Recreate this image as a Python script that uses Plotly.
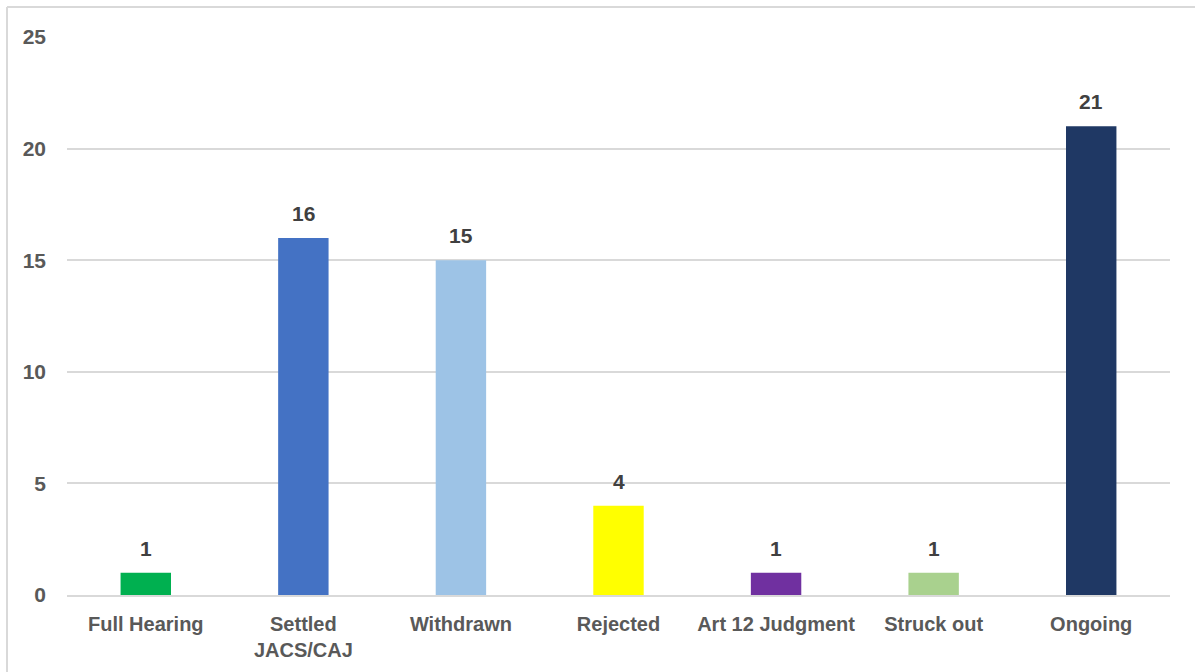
import plotly.graph_objects as go

categories = ["Full Hearing", "Settled<br>JACS/CAJ", "Withdrawn", "Rejected",
              "Art 12 Judgment", "Struck out", "Ongoing"]
counts = [1, 16, 15, 4, 1, 1, 21]
bar_colors = ["#00B050", "#4472C4", "#9DC3E6", "#FFFF00", "#7030A0", "#A9D18E", "#1F3864"]
y_ticks = [0, 5, 10, 15, 20, 25]

FONT = "Liberation Sans, Arial, sans-serif"
W, H = 1195, 672
L, R, T, B = 67, 25, 37, 77

fig = go.Figure(go.Bar(
    x=categories,
    y=counts,
    marker=dict(color=bar_colors, line=dict(width=0)),
    width=0.32,
    hoverinfo="x+y",
))

# value labels above each bar
for cat, val in zip(categories, counts):
    fig.add_annotation(
        x=cat, y=val, text=str(val), showarrow=False,
        yanchor="bottom", yshift=11,
        font=dict(family=FONT, size=21, color="#404040", weight="bold"),
    )

# outer frame (top and left edges)
pw, ph = W - L - R, H - T - B
def px(x):
    return (x - L) / pw
def py(y):
    return 1 - (y - T) / ph

frame = dict(color="#D9D9D9", width=2)
fig.add_shape(type="line", xref="paper", yref="paper",
              x0=px(7), x1=px(W), y0=py(7), y1=py(7), line=frame)
fig.add_shape(type="line", xref="paper", yref="paper",
              x0=px(7), x1=px(7), y0=py(7), y1=py(H), line=frame)

fig.update_layout(
    width=W, height=H,
    margin=dict(l=L, r=R, t=T, b=B, autoexpand=False),
    paper_bgcolor="white",
    plot_bgcolor="white",
    showlegend=False,
    font=dict(family=FONT, size=21, color="#595959"),
    xaxis=dict(
        automargin=False,
        showgrid=False,
        showline=True, linecolor="#D9D9D9", linewidth=2,
        tickfont=dict(family=FONT, size=20, color="#595959", weight="bold"),
        ticks="", ticklabelstandoff=10,
    ),
    yaxis=dict(
        automargin=False,
        range=[0, 25],
        tickvals=y_ticks,
        showgrid=True, gridcolor="#D9D9D9", gridwidth=2,
        zeroline=False, showline=False,
        tickfont=dict(family=FONT, size=21, color="#595959", weight="bold"),
        ticks="", ticklabelstandoff=20,
    ),
)

fig.write_html("out.html")
